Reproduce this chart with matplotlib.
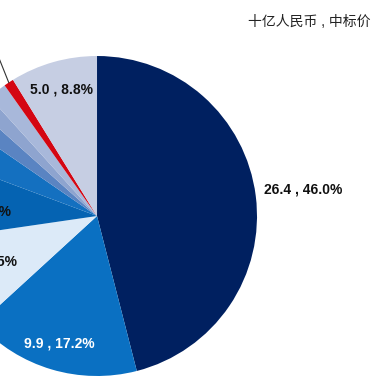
import numpy as np
import matplotlib.pyplot as plt

plt.rcParams['font.family'] = ['Liberation Sans', 'Noto Sans CJK SC', 'DejaVu Sans']

# values in bn RMB and shares, clockwise from 12 o'clock
values = [26.4, 9.9, 5.5, 4.6, 2.2, 1.1, 1.0, 1.1, 0.6, 5.0]
shares = [46.0, 17.2, 9.5, 8.0, 3.9, 2.0, 1.7, 1.9, 1.0, 8.8]
colors = ['#002060', '#0a70c2', '#dceaf8', '#0563b2', '#1470c0',
          '#5a84c2', '#8ea4cf', '#a8b8da', '#d40612', '#c6cee3']
label_colors = ['#111111', 'white', '#111111', '#111111', None,
                None, None, None, None, '#111111']
label_r = [1.3, 0.83, 0.755, 0.735, 0, 0, 0, 0, 0, 0.82]
label_shift = [0, 0, -3, 4, 0, 0, 0, 0, 0, 0]  # degrees
leader_idx = 8

fig = plt.figure(figsize=(3.9, 3.9), dpi=100)
ax = fig.add_axes([-0.1615, 0.0359, 0.8205, 0.8205])
wedges, _ = ax.pie(shares, colors=colors, startangle=90, counterclock=False,
                   radius=1, wedgeprops=dict(linewidth=0))
ax.set_xlim(-1, 1)
ax.set_ylim(-1, 1)
ax.set_aspect('equal')
ax.axis('off')

for i, w in enumerate(wedges):
    if label_colors[i] is None:
        continue
    mid = np.deg2rad((w.theta1 + w.theta2) / 2 + label_shift[i])
    r = label_r[i]
    ax.text(r * np.cos(mid), r * np.sin(mid),
            f'{values[i]:.1f} , {shares[i]:.1f}%',
            ha='center', va='center', fontsize=10, fontweight='bold',
            color=label_colors[i], clip_on=False)

# leader line of the small red slice (its label lies outside the crop)
w = wedges[leader_idx]
mid = np.deg2rad((w.theta1 + w.theta2) / 2)
p0 = np.array([np.cos(mid), np.sin(mid)])
p1 = p0 + np.array([-0.08, 0.2])
ax.plot([p0[0], p1[0]], [p0[1], p1[1]], color='#333333', lw=0.8, clip_on=False)

fig.text(0.949, 0.944, '十亿人民币 , 中标价', ha='right', va='center',
         fontsize=10, color='#222222')

fig.savefig('out.png', dpi=100)
